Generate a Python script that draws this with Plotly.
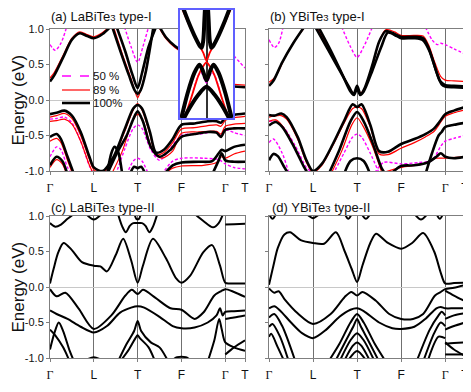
import plotly.graph_objects as go

# the page body adds an 8 px margin, so the figure is laid out in reference pixels minus 8
OFF = 8
W, H = 471 - OFF, 392 - OFF
FONT = "Arial, Liberation Sans, sans-serif"

# high-symmetry path Γ-L-T-F-Γ-T
K_TICKS = [0, 1, 2, 3, 4, 4.45]
K_LABELS = ["Γ", "L", "T", "F", "Γ", "T"]
E_TICKS = [-1.0, -0.5, 0.0, 0.5, 1.0]
E_LABELS = ["-1.0", "-0.5", "0.0", "0.5", "1.0"]
SUB3 = '<span style="font-size:9.5px">3</span>'
PANEL_TITLES = [f"(a) LaBiTe{SUB3} type-I", f"(b) YBiTe{SUB3} type-I",
                f"(c) LaBiTe{SUB3} type-II", f"(d) YBiTe{SUB3} type-II"]
LEGEND_LABELS = ["50 %", "89 %", "100%"]

# bands: lists of (k, E in eV)
A_100 = [
    [(0, 0.26), (0.1, 0.35), (0.3, 0.6), (0.5, 0.85), (0.68, 0.94), (0.85, 0.9), (1.0, 0.87), (1.2, 0.93), (1.38, 1.03)],
    [(1.42, 1.03), (1.6, 0.7), (1.8, 0.35), (1.93, 0.14), (2.0, 0.09), (2.07, 0.14), (2.18, 0.38), (2.3, 0.8), (2.36, 1.03)],
    [(1.52, 1.03), (1.72, 0.68), (1.88, 0.36), (2.0, 0.17), (2.1, 0.38), (2.25, 0.75), (2.42, 1.03)],
    [(2.5, 1.03), (2.65, 0.88), (2.85, 0.76), (3.0, 0.7), (3.2, 0.64), (3.5, 0.5), (3.75, 0.3), (3.9, 0.22), (4.0, 0.2), (4.2, 0.19), (4.45, 0.18)],
    [(0, -0.2), (0.15, -0.18), (0.33, -0.15), (0.5, -0.22), (0.7, -0.45), (0.9, -0.8), (1.0, -0.95), (1.2, -1.0), (1.45, -0.8),
     (1.7, -0.42), (1.9, -0.12), (2.0, -0.07), (2.1, -0.12), (2.28, -0.45), (2.42, -0.74), (2.6, -0.7), (2.8, -0.55), (3.0, -0.35),
     (3.3, -0.33), (3.6, -0.3), (3.8, -0.3), (3.9, -0.32), (4.0, -0.25), (4.2, -0.21), (4.45, -0.19)],
    [(0, -0.52), (0.15, -0.48), (0.25, -0.55), (0.4, -0.8), (0.55, -1.05)],
    [(1.3, -1.05), (1.55, -0.72), (1.75, -0.5), (1.9, -0.27), (2.0, -0.16), (2.12, -0.3), (2.3, -0.66), (2.5, -0.8), (2.75, -0.7),
     (3.0, -0.52), (3.3, -0.48), (3.6, -0.45), (3.8, -0.46), (3.9, -0.52), (4.0, -0.42), (4.2, -0.4), (4.45, -0.4)],
    [(1.3, -1.05), (1.4, -0.75), (1.47, -0.66), (1.55, -0.72), (1.65, -1.05)],
    [(0, -0.92), (0.15, -0.8), (0.28, -0.86), (0.4, -1.05)],
    [(1.82, -1.05), (1.92, -0.94), (2.0, -0.96), (2.08, -0.94), (2.18, -1.05)],
    [(2.6, -1.05), (2.8, -0.92), (3.0, -0.88), (3.4, -0.87), (3.7, -0.86), (3.85, -0.75), (3.92, -0.7), (4.0, -0.72), (4.2, -0.66), (4.45, -0.63)],
    [(3.7, -1.05), (3.85, -0.85), (3.92, -0.75), (4.0, -0.85), (4.2, -0.87), (4.45, -0.87)],
]
A_89 = [
    [(0, 0.31), (0.1, 0.39), (0.3, 0.63), (0.5, 0.87), (0.68, 0.96), (0.85, 0.92), (1.0, 0.89), (1.2, 0.95), (1.35, 1.03)],
    [(1.45, 1.03), (1.65, 0.65), (1.85, 0.3), (1.95, 0.1), (2.0, 0.03), (2.05, 0.1), (2.18, 0.4), (2.3, 0.8), (2.38, 1.03)],
    [(2.48, 1.03), (2.65, 0.86), (2.85, 0.74), (3.0, 0.68), (3.2, 0.62), (3.5, 0.5), (3.75, 0.32), (3.9, 0.25), (4.0, 0.23), (4.2, 0.22), (4.45, 0.21)],
    [(0, -0.24), (0.15, -0.22), (0.33, -0.19), (0.5, -0.26), (0.7, -0.5), (0.9, -0.84), (1.0, -0.98), (1.2, -1.03), (1.45, -0.82),
     (1.7, -0.45), (1.9, -0.14), (2.0, -0.05), (2.1, -0.14), (2.28, -0.48), (2.42, -0.77), (2.6, -0.74), (2.8, -0.6), (3.0, -0.41),
     (3.3, -0.39), (3.6, -0.36), (3.8, -0.35), (3.9, -0.37), (4.0, -0.29), (4.2, -0.25), (4.45, -0.23)],
    [(0, -0.3), (0.15, -0.29), (0.33, -0.27), (0.5, -0.34), (0.7, -0.58), (0.9, -0.92), (1.0, -1.05)],
    [(0, -0.58), (0.15, -0.54), (0.25, -0.6), (0.4, -0.85), (0.52, -1.05)],
    [(1.4, -1.05), (1.65, -0.72), (1.88, -0.3), (2.0, -0.2), (2.12, -0.3), (2.35, -0.72), (2.55, -0.82), (2.8, -0.72), (3.0, -0.47),
     (3.4, -0.45), (3.8, -0.44), (3.9, -0.48), (4.0, -0.37), (4.2, -0.34), (4.45, -0.33)],
    [(2.6, -1.05), (2.8, -0.96), (3.0, -0.93), (3.5, -0.92), (3.8, -0.88), (3.9, -0.8), (4.0, -0.82), (4.2, -0.76), (4.45, -0.72)],
    [(0, -0.95), (0.15, -0.84), (0.28, -0.9), (0.38, -1.05)],
]
A_50 = [
    [(0, 0.78), (0.12, 0.7), (0.25, 0.8), (0.38, 1.03)],
    [(1.7, 1.03), (1.85, 0.75), (2.0, 0.53), (2.12, 0.75), (2.25, 1.03)],
    [(3.3, 1.03), (3.6, 0.86), (4.0, 0.75), (4.2, 0.62), (4.45, 0.45)],
    [(0, -0.27), (0.15, -0.26), (0.33, -0.24), (0.5, -0.32), (0.7, -0.58), (0.9, -0.93), (1.0, -1.05)],
    [(1.5, -1.05), (1.7, -0.7), (1.9, -0.4), (2.0, -0.35), (2.1, -0.4), (2.3, -0.7), (2.5, -0.85), (2.7, -0.72), (3.0, -0.5),
     (3.4, -0.48), (3.8, -0.45), (3.9, -0.5), (4.0, -0.42), (4.2, -0.46), (4.45, -0.5)],
    [(2.55, -1.05), (2.8, -0.86), (3.0, -0.82), (3.5, -0.82), (3.85, -0.84), (4.0, -0.9), (4.2, -0.95), (4.45, -0.97)],
    [(0, -0.8), (0.15, -0.66), (0.25, -0.7), (0.4, -0.95), (0.5, -1.05)],
    [(1.75, -1.05), (1.9, -0.86), (2.0, -0.82), (2.1, -0.86), (2.25, -1.05)],
]

B_100 = [
    [(0, 0.2), (0.1, 0.27), (0.3, 0.53), (0.55, 0.8), (0.8, 1.03)],
    [(1.05, 1.03), (1.35, 0.7), (1.6, 0.42), (1.82, 0.18), (1.92, 0.08), (2.0, 0.2), (2.08, 0.08), (2.18, 0.18), (2.35, 0.5),
     (2.5, 0.82), (2.65, 0.97), (2.85, 0.93), (3.0, 0.89), (3.3, 0.89), (3.5, 0.87), (3.62, 0.74), (3.75, 0.5), (3.88, 0.27),
     (4.0, 0.21), (4.2, 0.2), (4.45, 0.19)],
    [(1.12, 1.03), (1.4, 0.7), (1.65, 0.38), (1.85, 0.12), (1.93, 0.07), (2.0, 0.16), (2.07, 0.07), (2.15, 0.12), (2.35, 0.42),
     (2.55, 0.75), (2.7, 0.95), (2.9, 0.9), (3.0, 0.87), (3.3, 0.87), (3.5, 0.84), (3.65, 0.68), (3.8, 0.4), (3.92, 0.22),
     (4.0, 0.19), (4.2, 0.18), (4.45, 0.17)],
    [(0, -0.21), (0.12, -0.22), (0.28, -0.19), (0.4, -0.24), (0.65, -0.52), (0.85, -0.85), (1.0, -1.0), (1.2, -0.9), (1.45, -0.62),
     (1.7, -0.3), (1.9, -0.06), (2.0, -0.1), (2.1, -0.06), (2.3, -0.35), (2.5, -0.72), (2.7, -0.73), (3.0, -0.62), (3.3, -0.55),
     (3.55, -0.48), (3.75, -0.4), (3.88, -0.3), (4.0, -0.2), (4.2, -0.15), (4.45, -0.1)],
    [(0, -0.36), (0.15, -0.31), (0.3, -0.38), (0.55, -0.64), (0.8, -0.95), (0.9, -1.05)],
    [(0, -0.85), (0.1, -0.76), (0.2, -0.79), (0.35, -0.95), (0.45, -1.05)],
    [(1.35, -1.05), (1.6, -0.7), (1.85, -0.3), (2.0, -0.17), (2.15, -0.3), (2.35, -0.6), (2.55, -0.95), (2.65, -1.05)],
    [(1.7, -1.05), (1.85, -0.86), (2.0, -0.82), (2.15, -0.86), (2.3, -1.05)],
    [(2.75, -1.05), (3.0, -0.93), (3.3, -0.92), (3.6, -0.88), (3.8, -0.8), (3.9, -0.75), (4.0, -0.8), (4.2, -0.82), (4.45, -0.8)],
    [(3.55, -1.05), (3.7, -0.75), (3.85, -0.5), (3.92, -0.45), (4.0, -0.38), (4.2, -0.35), (4.45, -0.32)],
]
B_89 = [
    [(0, 0.25), (0.15, 0.33), (0.35, 0.58), (0.6, 0.85), (0.82, 1.03)],
    [(1.08, 1.03), (1.38, 0.7), (1.62, 0.42), (1.83, 0.17), (1.92, 0.1), (2.0, 0.18), (2.08, 0.1), (2.17, 0.17), (2.35, 0.48),
     (2.5, 0.82), (2.65, 0.99), (2.85, 0.96), (3.0, 0.91), (3.3, 0.91), (3.5, 0.9), (3.62, 0.78), (3.77, 0.52), (3.9, 0.33),
     (4.0, 0.28), (4.2, 0.27), (4.45, 0.26)],
    [(0, -0.24), (0.28, -0.22), (0.4, -0.27), (0.65, -0.55), (0.85, -0.88), (1.0, -1.02), (1.2, -0.92), (1.45, -0.64), (1.7, -0.33),
     (1.9, -0.12), (2.0, -0.1), (2.1, -0.12), (2.3, -0.38), (2.5, -0.76), (2.7, -0.77), (3.0, -0.68), (3.3, -0.6), (3.55, -0.52),
     (3.75, -0.44), (3.88, -0.33), (4.0, -0.23), (4.2, -0.18), (4.45, -0.14)],
    [(0, -0.3), (0.15, -0.28), (0.3, -0.36), (0.55, -0.62), (0.8, -0.95), (0.9, -1.05)],
    [(1.4, -1.05), (1.65, -0.72), (1.88, -0.35), (2.0, -0.25), (2.12, -0.35), (2.35, -0.65), (2.55, -1.0)],
    [(2.6, -1.02), (3.0, -0.95), (3.5, -0.9), (3.8, -0.82), (4.0, -0.82), (4.45, -0.8)],
]
B_50 = [
    [(0, 0.85), (0.12, 0.74), (0.22, 0.8), (0.32, 1.03)],
    [(1.65, 1.03), (1.85, 0.75), (2.0, 0.6), (2.15, 0.75), (2.35, 1.03)],
    [(3.55, 1.03), (3.7, 0.85), (3.82, 0.78), (3.9, 0.8), (4.0, 0.78), (4.2, 0.72), (4.45, 0.65)],
    [(0, -0.3), (0.15, -0.3), (0.35, -0.4), (0.6, -0.65), (0.85, -0.95), (1.0, -1.03)],
    [(1.45, -1.05), (1.7, -0.75), (1.9, -0.52), (2.0, -0.48), (2.1, -0.52), (2.3, -0.75), (2.5, -1.03)],
    [(2.4, -1.03), (2.6, -0.88), (3.0, -0.9), (3.4, -0.88), (3.7, -0.85), (3.9, -0.65), (4.0, -0.58), (4.2, -0.54), (4.45, -0.5)],
    [(0, -0.6), (0.1, -0.55), (0.3, -0.75), (0.45, -1.03)],
]

C_100 = [
    [(0, 0.05), (0.08, 0.25), (0.19, 0.49), (0.31, 0.62), (0.5, 0.52), (0.73, 0.35), (1.0, 0.3), (1.15, 0.29), (1.3, 0.22),
     (1.5, 0.45), (1.67, 0.68), (1.85, 0.38), (2.0, 0.06), (2.12, 0.3), (2.35, 0.68), (2.65, 0.4), (2.88, 0.12), (3.0, 0.06),
     (3.2, 0.16), (3.5, 0.49), (3.7, 0.59), (3.88, 0.3), (4.0, 0.06), (4.1, 0.05), (4.45, 0.05)],
    [(0, 0.9), (0.12, 0.85), (0.25, 0.88), (0.4, 0.96), (0.55, 1.03)],
    [(0.82, 1.03), (1.0, 0.95), (1.18, 1.03)],
    [(1.55, 1.03), (1.65, 0.85), (1.73, 0.77), (1.82, 0.86), (1.9, 0.9), (2.0, 0.9), (2.1, 0.9), (2.18, 0.86), (2.27, 0.77),
     (2.35, 0.85), (2.45, 1.03)],
    [(1.93, 1.03), (1.97, 0.96), (2.03, 0.96), (2.07, 1.03)],
    [(3.3, 1.03), (3.5, 0.93), (3.72, 0.84), (3.85, 0.9), (3.95, 1.03)],
    [(4.0, 0.88), (4.2, 0.885), (4.45, 0.89)],
    [(0, -0.03), (0.15, -0.13), (0.35, -0.08), (0.65, -0.3), (1.0, -0.59), (1.4, -0.4), (1.72, -0.12), (1.87, -0.04), (2.0, -0.1),
     (2.12, -0.04), (2.4, -0.15), (2.75, -0.3), (3.0, -0.32), (3.3, -0.45), (3.5, -0.36), (3.75, -0.12), (3.9, -0.06), (4.0, -0.03),
     (4.2, -0.07), (4.45, -0.14)],
    [(0, -0.33), (0.15, -0.38), (0.4, -0.45), (0.7, -0.56), (1.0, -0.64), (1.3, -0.55), (1.6, -0.36), (1.85, -0.29), (2.0, -0.27),
     (2.15, -0.29), (2.5, -0.42), (2.8, -0.55), (3.0, -0.58), (3.3, -0.57), (3.6, -0.5), (3.8, -0.4), (3.88, -0.3), (3.94, -0.4),
     (4.0, -0.35), (4.2, -0.34), (4.45, -0.33)],
    [(0, -0.88), (0.1, -0.65), (0.2, -0.5), (0.3, -0.62), (0.45, -0.9), (0.55, -1.05)],
    [(0, -0.6), (0.12, -0.68), (0.3, -0.85), (0.45, -1.05)],
    [(1.55, -1.05), (1.75, -0.8), (1.92, -0.62), (2.0, -0.48), (2.08, -0.62), (2.3, -0.78), (2.5, -0.85), (2.7, -1.05)],
    [(1.6, -1.05), (1.8, -0.88), (1.95, -0.72), (2.0, -0.68), (2.05, -0.72), (2.25, -0.85), (2.4, -1.05)],
    [(0.75, -1.05), (1.0, -0.99), (1.25, -1.05)],
    [(2.75, -1.05), (2.9, -0.99), (3.1, -0.99), (3.25, -1.05)],
    [(3.6, -1.05), (3.75, -0.75), (3.86, -0.45), (3.92, -0.6), (4.0, -0.78), (4.2, -0.85), (4.45, -0.9)],
    [(4.0, -0.45), (4.2, -0.43), (4.45, -0.4)],
    [(4.0, -0.95), (4.2, -0.85), (4.45, -0.75)],
]

D_100 = [
    [(0, 0.03), (0.1, 0.3), (0.2, 0.55), (0.35, 0.74), (0.48, 0.77), (0.72, 0.66), (1.0, 0.62), (1.25, 0.61), (1.52, 0.77),
     (1.72, 0.5), (1.88, 0.25), (2.0, 0.07), (2.12, 0.3), (2.3, 0.62), (2.43, 0.75), (2.7, 0.62), (3.0, 0.54), (3.25, 0.62),
     (3.5, 0.76), (3.75, 0.5), (3.9, 0.2), (4.0, 0.05), (4.2, 0.055), (4.45, 0.06)],
    [(0.0, 1.03), (0.08, 0.96), (0.16, 1.03)],
    [(0.85, 1.03), (1.0, 0.97), (1.15, 1.03)],
    [(1.72, 1.03), (1.8, 0.96), (1.88, 1.03)],
    [(2.1, 1.03), (2.2, 0.96), (2.3, 1.03)],
    [(3.3, 1.03), (3.45, 0.95), (3.6, 1.03)],
    [(3.8, 1.03), (3.88, 0.96), (3.95, 1.03)],
    [(0, -0.02), (0.12, -0.08), (0.22, -0.06), (0.35, -0.17), (0.65, -0.37), (1.0, -0.52), (1.4, -0.38), (1.72, -0.14), (1.87, -0.07),
     (2.0, -0.12), (2.12, -0.07), (2.42, -0.19), (2.73, -0.38), (3.0, -0.45), (3.27, -0.45), (3.5, -0.38), (3.77, -0.12), (3.9, -0.07),
     (4.0, -0.03), (4.2, -0.01), (4.45, 0.03)],
    [(4.0, -0.05), (4.2, -0.12), (4.45, -0.2)],
    [(0, -0.3), (0.12, -0.27), (0.25, -0.33), (0.5, -0.5), (0.75, -0.65), (1.0, -0.72), (1.3, -0.6), (1.6, -0.42), (1.85, -0.32),
     (2.0, -0.3), (2.15, -0.34), (2.5, -0.5), (2.8, -0.58), (3.0, -0.59), (3.3, -0.56), (3.55, -0.45), (3.8, -0.3), (3.9, -0.28),
     (4.0, -0.3), (4.2, -0.3), (4.45, -0.3)],
    [(0, -0.43), (0.12, -0.38), (0.3, -0.55), (0.6, -1.05)],
    [(0, -0.56), (0.08, -0.52), (0.25, -0.7), (0.45, -1.05)],
    [(0, -0.7), (0.05, -0.66), (0.2, -0.85), (0.35, -1.05)],
    [(3.35, -1.05), (3.65, -0.6), (3.85, -0.4), (3.92, -0.35), (4.0, -0.4)],
    [(3.5, -1.05), (3.75, -0.65), (3.9, -0.5), (4.0, -0.55)],
    [(3.6, -1.05), (3.85, -0.7), (4.0, -0.72)],
    [(4.0, -0.45), (4.2, -0.4), (4.45, -0.37)],
    [(4.0, -0.6), (4.2, -0.55), (4.45, -0.5)],
    [(4.0, -0.8), (4.2, -0.79), (4.45, -0.78)],
    [(4.0, -0.78), (4.2, -0.88), (4.45, -0.97)],
    [(4.0, -0.95), (4.45, -0.95)],
    [(1.35, -1.05), (1.6, -0.8), (1.85, -0.5), (2.0, -0.38), (2.15, -0.5), (2.4, -0.8), (2.65, -1.05)],
    [(1.5, -1.05), (1.75, -0.75), (1.92, -0.55), (2.0, -0.45), (2.08, -0.55), (2.25, -0.75), (2.5, -1.05)],
    [(1.6, -1.05), (1.85, -0.75), (2.0, -0.65), (2.15, -0.75), (2.4, -1.05)],
    [(1.7, -1.05), (1.9, -0.83), (2.0, -0.78), (2.1, -0.83), (2.3, -1.05)],
    [(1.78, -1.05), (2.0, -0.9), (2.22, -1.05)],
]

# zoom around T in panel (a): x is a relative offset from T
INSET_100 = [
    [(-1.0, 0.46), (-0.7, 0.3), (-0.4, 0.16), (-0.24, 0.1), (-0.18, 0.09), (-0.12, 0.15), (-0.08, 0.3), (-0.05, 0.42)],
    [(0.05, 0.42), (0.08, 0.3), (0.12, 0.15), (0.18, 0.09), (0.24, 0.1), (0.4, 0.16), (0.7, 0.3), (1.0, 0.46)],
    [(-0.95, -0.45), (-0.7, -0.25), (-0.45, -0.1), (-0.27, -0.04), (-0.15, -0.08), (0, -0.16), (0.15, -0.08), (0.27, -0.04),
     (0.45, -0.1), (0.7, -0.25), (0.95, -0.45)],
    [(-0.9, -0.47), (-0.6, -0.36), (-0.3, -0.27), (0, -0.21), (0.3, -0.27), (0.6, -0.36), (0.9, -0.47)],
]
INSET_89 = [
    [(-1.0, 0.43), (-0.6, 0.24), (-0.3, 0.12), (-0.12, 0.05), (0, -0.01), (0.12, 0.05), (0.3, 0.12), (0.6, 0.24), (1.0, 0.43)],
    [(-1.0, -0.55), (-0.6, -0.31), (-0.3, -0.12), (-0.12, -0.05), (0, -0.02), (0.12, -0.05), (0.3, -0.12), (0.6, -0.31), (1.0, -0.55)],
]
INSET_50 = [
    [(-0.5, -0.24), (-0.3, -0.12), (-0.2, -0.1), (0, -0.18), (0.2, -0.1), (0.3, -0.12), (0.5, -0.24)],
]


def px_x(x):
    return (x - OFF) / W


def px_y(y):
    return 1 - (y - OFF) / H


fig = go.Figure()


def add_bands(bands, color, width, dash, n):
    for band in bands:
        k, e = zip(*band)
        fig.add_trace(go.Scatter(
            x=k, y=e, mode="lines", xaxis=f"x{n}", yaxis=f"y{n}",
            line=dict(color=color, width=width, dash=dash, shape="spline", smoothing=0.8),
            showlegend=False, hoverinfo="skip"))


add_bands(A_50, "#ff00ff", 1.4, "3px,2px", 1)
add_bands(A_89, "#ff0000", 1.2, "solid", 1)
add_bands(A_100, "#000000", 2.6, "solid", 1)
add_bands(B_50, "#ff00ff", 1.4, "3px,2px", 2)
add_bands(B_89, "#ff0000", 1.2, "solid", 2)
add_bands(B_100, "#000000", 2.6, "solid", 2)
add_bands(C_100, "#000000", 2.0, "solid", 3)
add_bands(D_100, "#000000", 2.0, "solid", 4)
add_bands(INSET_50, "#ff00ff", 1.4, "3px,2px", 5)
add_bands(INSET_89, "#ff0000", 1.8, "solid", 5)
add_bands(INSET_100, "#000000", 4.0, "solid", 5)

tick_text = [f'<span style="font-family:Liberation Serif">{t}</span>' if t == "Γ" else t for t in K_LABELS]
frame = "#7f7f7f"
panels = [
    (1, (50, 245), (29, 171), True),
    (2, (269, 465), (29, 171), False),
    (3, (50, 245), (216, 358), True),
    (4, (269, 465), (216, 358), False),
]
axes = {}
for n, (x0, x1), (y0, y1), show_y in panels:
    axes[f"xaxis{n}"] = dict(
        domain=[px_x(x0), px_x(x1)], range=[0, 4.45], anchor=f"y{n}",
        tickmode="array", tickvals=K_TICKS, ticktext=tick_text,
        ticks="outside", ticklen=3, tickcolor=frame, ticklabelstandoff=3,
        tickfont=dict(size=12, color="#111"),
        showgrid=True, gridcolor="#707070", gridwidth=1, zeroline=False,
        showline=True, mirror=True, linecolor=frame, linewidth=1, automargin=False)
    axes[f"yaxis{n}"] = dict(
        domain=[px_y(y1), px_y(y0)], range=[-1, 1], anchor=f"x{n}",
        tickmode="array", tickvals=E_TICKS, ticktext=E_LABELS, showticklabels=show_y,
        ticks="outside", ticklen=3, tickcolor=frame,
        tickfont=dict(size=11, color="#111"),
        showgrid=False, zeroline=True, zerolinecolor="#c8c8c8", zerolinewidth=1,
        showline=True, mirror=True, linecolor=frame, linewidth=1, automargin=False)

# inset box
axes["xaxis5"] = dict(domain=[px_x(180), px_x(233)], range=[-1, 1], anchor="y5",
                      tickvals=[0], showticklabels=False, ticks="", showgrid=True,
                      gridcolor="#333", gridwidth=1.5, zeroline=False,
                      showline=True, mirror=True, linecolor="#6060ff", linewidth=2, automargin=False)
axes["yaxis5"] = dict(domain=[px_y(118), px_y(10)], range=[-0.45, 0.38], anchor="x5",
                      showticklabels=False, ticks="", showgrid=False,
                      zeroline=True, zerolinecolor="#b0b0b0", zerolinewidth=1,
                      showline=True, mirror=True, linecolor="#6060ff", linewidth=2, automargin=False)

annotations = []
for title, (x, y) in zip(PANEL_TITLES, [(49, 16), (268, 16), (49, 207), (270, 207)]):
    annotations.append(dict(text=title, x=px_x(x), y=px_y(y), xref="paper", yref="paper",
                            xanchor="left", yanchor="middle", showarrow=False,
                            font=dict(size=13, color="#111")))
for y in (100, 287):
    annotations.append(dict(text="Energy (eV)", x=px_x(17.5), y=px_y(y), xref="paper", yref="paper",
                            xanchor="center", yanchor="middle",
                            textangle=-90, showarrow=False, font=dict(size=17, color="#111")))

# legend of panel (a)
shapes = []
leg_styles = [("#ff00ff", 1.4, "dash"), ("#ff0000", 1.2, "solid"), ("#000000", 2.6, "solid")]
for label, (color, width, dash), y in zip(LEGEND_LABELS, leg_styles, (76, 90, 103)):
    shapes.append(dict(type="line", xref="paper", yref="paper",
                       x0=px_x(62), x1=px_x(90), y0=px_y(y), y1=px_y(y),
                       line=dict(color=color, width=width, dash=dash)))
    annotations.append(dict(text=label, x=px_x(91), y=px_y(y), xref="paper", yref="paper",
                            xanchor="left", yanchor="middle", showarrow=False,
                            font=dict(size=11.5, color="#111")))

fig.update_layout(
    width=W, height=H, template="none",
    margin=dict(l=0, r=0, t=0, b=0),
    paper_bgcolor="white", plot_bgcolor="rgb(255,255,255)",
    font=dict(family=FONT, size=12, color="#111"),
    showlegend=False, annotations=annotations, shapes=shapes,
    **axes)

fig.write_html("out.html")
